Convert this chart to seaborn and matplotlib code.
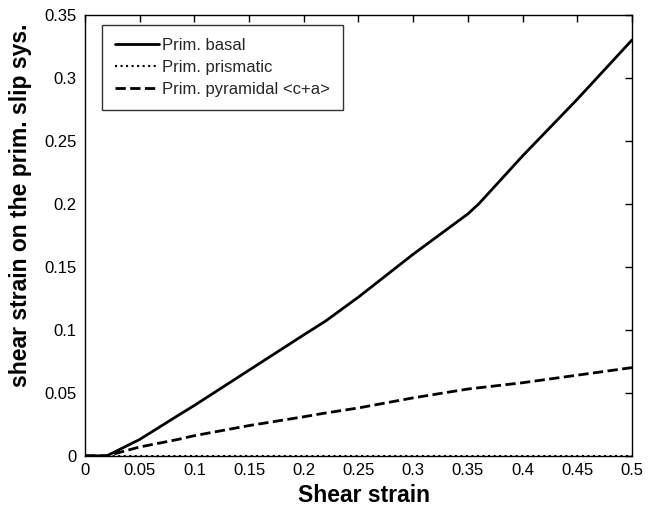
import matplotlib
matplotlib.use("Agg")
import matplotlib.pyplot as plt
import seaborn as sns
import pandas as pd
import numpy as np

shear = [0.0, 0.02, 0.05, 0.085, 0.1, 0.15, 0.2, 0.22, 0.25, 0.3, 0.35, 0.36, 0.4, 0.45, 0.5]
basal = [0.0, 0.0, 0.013, 0.032, 0.040, 0.068, 0.096, 0.107, 0.126, 0.160, 0.192, 0.200, 0.238, 0.283, 0.330]
prismatic = [0.0] * len(shear)
pyramidal = [0.0, 0.0, 0.007, 0.013, 0.016, 0.024, 0.031, 0.034, 0.038, 0.046, 0.053, 0.054, 0.058, 0.064, 0.070]

labels = ["Prim. basal", "Prim. prismatic", "Prim. pyramidal <c+a>"]
styles = ["-", ":", "--"]
xtick_labels = ["0", "0.05", "0.1", "0.15", "0.2", "0.25", "0.3", "0.35", "0.4", "0.45", "0.5"]
ytick_labels = ["0", "0.05", "0.1", "0.15", "0.2", "0.25", "0.3", "0.35"]

df = pd.DataFrame({"x": shear * 3,
                   "y": basal + prismatic + pyramidal,
                   "series": sum([[l] * len(shear) for l in labels], [])})

sns.set_style("white")
plt.rcParams["font.family"] = ["Liberation Sans", "DejaVu Sans"]

fig = plt.figure(figsize=(6.59, 5.11), dpi=100)
ax = fig.add_axes([0.129, 0.108, 0.830, 0.863])

for lab, ls in zip(labels, styles):
    sub = df[df["series"] == lab]
    sns.lineplot(data=sub, x="x", y="y", ax=ax, color="black", linestyle=ls,
                 linewidth=2.0 if ls != ":" else 1.5, label=lab)

ax.set_xlim(0, 0.5)
ax.set_ylim(0, 0.35)
ax.set_xticks(np.arange(0, 0.5001, 0.05))
ax.set_yticks(np.arange(0, 0.3501, 0.05))
ax.set_xticklabels(xtick_labels)
ax.set_yticklabels(ytick_labels)
ax.tick_params(direction="in", top=True, right=True, length=5, width=1,
               labelsize=12, colors="black")
ax.tick_params(axis="x", pad=5)
ax.tick_params(axis="y", pad=6)
for s in ax.spines.values():
    s.set_color("black")
    s.set_linewidth(1.0)
ax.set_xlabel("Shear strain", fontsize=16.5, fontweight="bold", color="black")
ax.set_ylabel("shear strain on the prim. slip sys.", fontsize=16.5, fontweight="bold", color="black")
ax.xaxis.set_label_coords(0.51, -0.063)
ax.yaxis.set_label_coords(-0.097, 0.569)

leg = ax.legend(loc="upper left", fontsize=12, frameon=True, fancybox=False,
                handlelength=2.6, handletextpad=0.2, borderpad=0.8, labelspacing=0.4,
                borderaxespad=0, bbox_to_anchor=(0.031, 0.977))
leg.get_frame().set_edgecolor("black")
leg.get_frame().set_linewidth(1.0)

fig.savefig("out.png", dpi=100, facecolor="white")
